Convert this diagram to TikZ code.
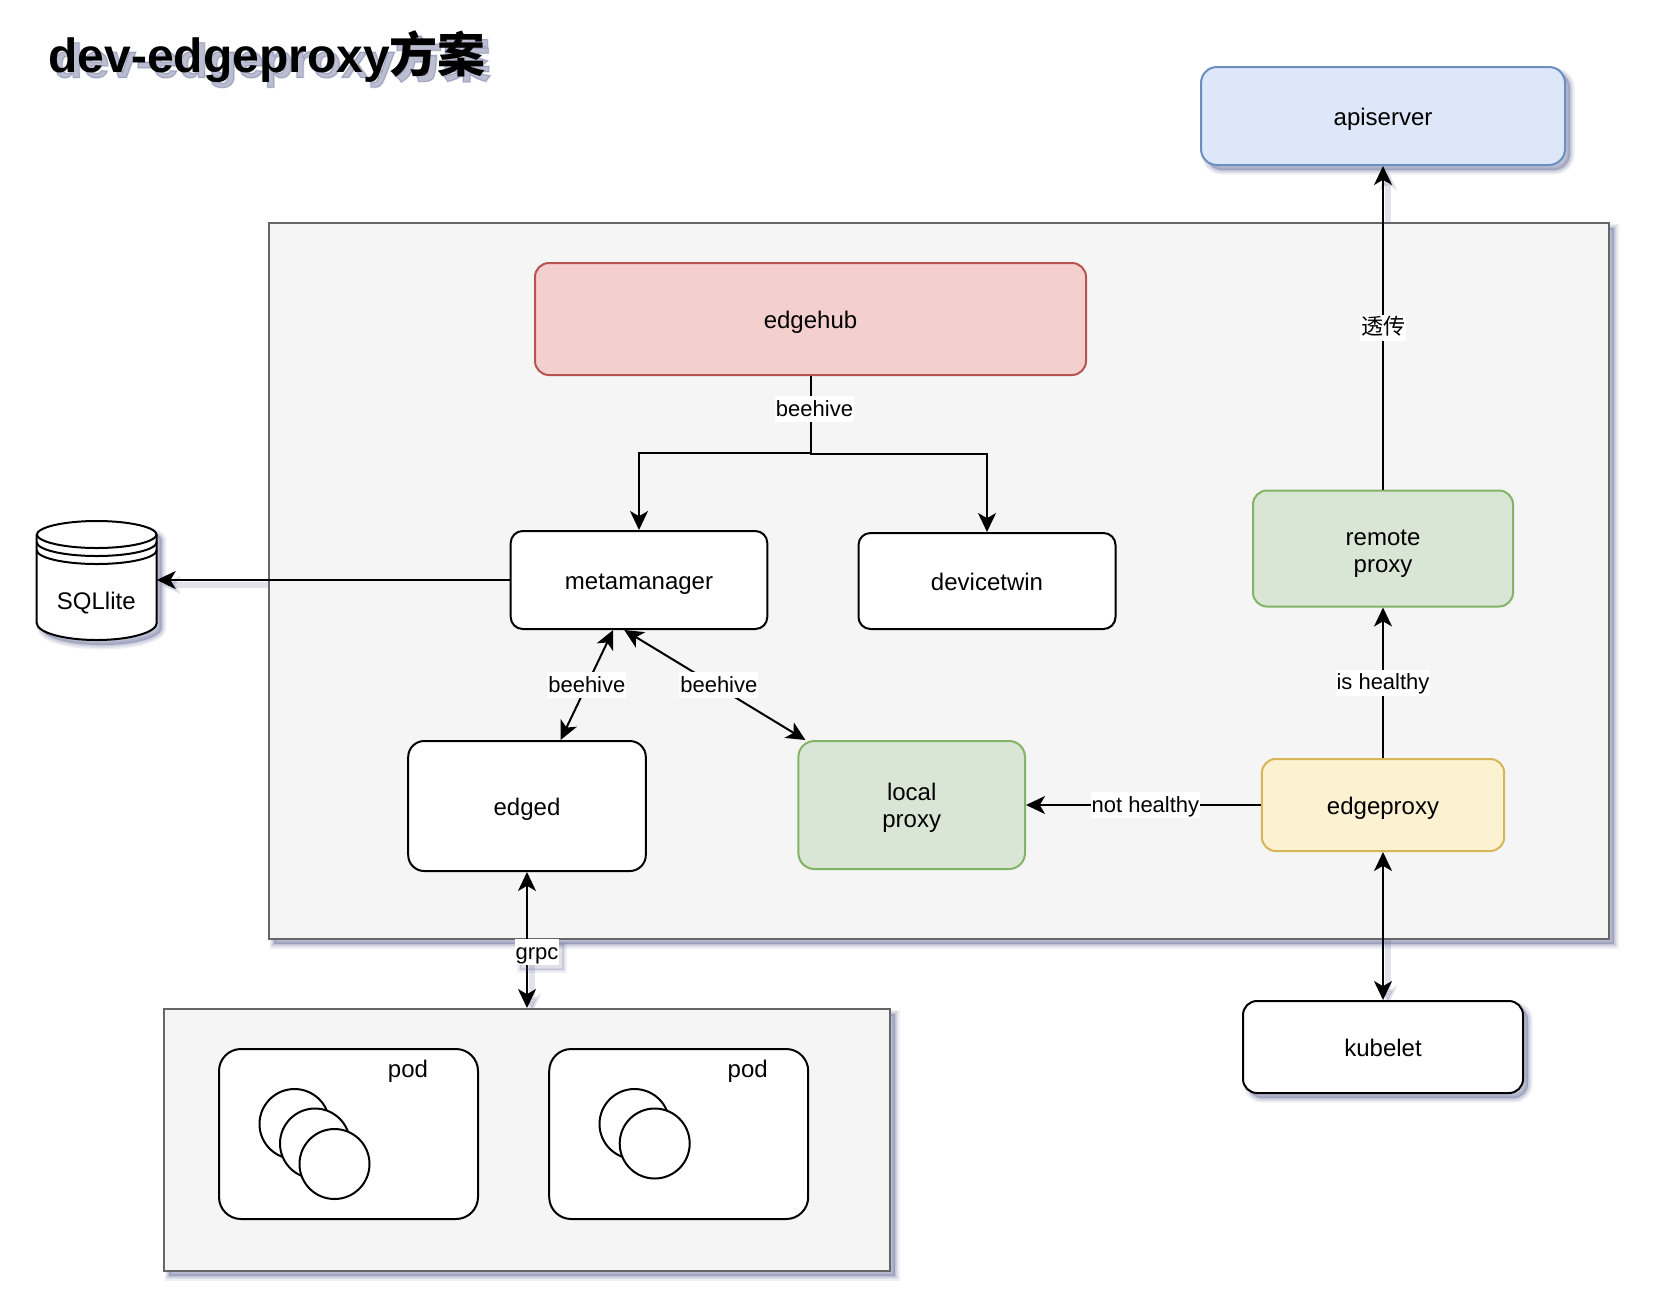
\documentclass[tikz,border=0pt]{standalone}
\usepackage{fontspec}
\setmainfont{Liberation Sans}
\newfontfamily\cjk{Noto Sans CJK SC}
\newfontfamily\glowwide[FakeBold=4]{Liberation Sans}
\newfontfamily\glowthin[FakeBold=1.5]{Liberation Sans}
\newfontfamily\cjkwide[FakeBold=4]{Noto Sans CJK SC}
\newfontfamily\cjkthin[FakeBold=1.5]{Noto Sans CJK SC}
\usepackage{tikz}
\usetikzlibrary{arrows.meta, calc}
\definecolor{cblue}{HTML}{6C8EBF}
\definecolor{cred}{HTML}{B85450}
\definecolor{cgreen}{HTML}{82B366}
\definecolor{cyellow}{HTML}{D6B656}
\definecolor{cgray}{HTML}{666666}
\definecolor{cshadow}{HTML}{565C8C}
\definecolor{lightblue}{HTML}{DDE7F9}
\definecolor{lightred}{HTML}{F3D0CE}
\definecolor{lightgreen}{HTML}{D9E6D6}
\definecolor{lightyellow}{HTML}{FCF1D0}
\definecolor{lightgray}{HTML}{F5F5F5}
\pgfdeclarelayer{edgeshadows}
\pgfsetlayers{edgeshadows,main}
\tikzset{
  softlayer/.style={preaction={draw=cshadow, fill=cshadow, opacity=0.1, line width=#1, transform canvas={shift={(2.5pt,-2.5pt)}}}},
  shadowed/.style={softlayer=4.5pt, softlayer=3pt, softlayer=1.8pt, softlayer=0.6pt},
  area/.style={draw=cgray, fill=lightgray, line width=1pt, inner sep=0pt},
  modbox/.style={draw=black, fill=white, line width=1pt, rounded corners=7pt, inner sep=0pt, font=\fontsize{12}{13.5}\selectfont, align=center},
  linebox/.style={modbox, text height=11pt, text depth=2pt},
  plaintext/.style={font=\fontsize{12}{14}\selectfont, inner sep=0pt, text height=11pt, text depth=2pt},
  edgeline/.style={line width=1pt, >={Stealth[length=9.5pt, width=9pt, inset=2.6pt]}},
  edgeglow/.style={edgeline, draw=cshadow, opacity=0.18, line width=2.6pt, transform canvas={shift={(2.5pt,-2.5pt)}}},
  edgelabel/.style={fill=white, inner sep=0.5pt, text height=9.5pt, text depth=2.5pt, font=\fontsize{11}{13}\selectfont},
  ball/.style={circle, draw=black, fill=white, line width=1pt, minimum size=35pt, inner sep=0pt},
  titletext/.style={anchor=base west, inner sep=0pt, font=\fontsize{24}{28}\selectfont\bfseries}
}
\begin{document}
\begin{tikzpicture}[x=0.5pt, y=-0.5pt]
  \useasboundingbox (0,0) rectangle (1658,1312);
  \node[titletext, text=cshadow, text opacity=0.14] (titleglowa) at (53,77.5) {\glowwide dev-edgeproxy{\cjkwide 方案}};
  \node[titletext, text=cshadow, text opacity=0.3] (titleglowb) at (53,77.5) {\glowthin dev-edgeproxy{\cjkthin 方案}};
  \node[titletext] (title) at (48,72) {dev-edgeproxy{\cjk 方案}};

  \node[area, shadowed, minimum width=670pt, minimum height=358pt] (edgenode) at (939,581) {};
  \node[area, shadowed, minimum width=363pt, minimum height=131pt] (podarea) at (527,1140) {};

  \node[linebox, shadowed, draw=cblue, fill=lightblue, rounded corners=8pt, minimum width=182pt, minimum height=49pt] (apiserver) at (1383,116) {apiserver};
  \node[linebox, draw=cred, fill=lightred, minimum width=275.5pt, minimum height=56pt] (edgehub) at (810.5,319) {edgehub};
  \node[linebox, minimum width=128.3pt, minimum height=49pt, rounded corners=6pt] (metamanager) at (639,580) {metamanager};
  \node[linebox, minimum width=128.5pt, minimum height=48pt, rounded corners=6pt] (devicetwin) at (987,581) {devicetwin};
  \node[linebox, minimum width=118.8pt, minimum height=65pt, rounded corners=8pt] (edged) at (527,806) {edged};
  \node[modbox, draw=cgreen, fill=lightgreen, minimum width=113.3pt, minimum height=64pt, rounded corners=8pt] (localproxy) at (911.7,805) {\rule{0pt}{11.3pt}local\\proxy};
  \node[modbox, draw=cgreen, fill=lightgreen, minimum width=130pt, minimum height=58pt] (remoteproxy) at (1383,548.5) {\rule{0pt}{13pt}remote\\proxy};
  \node[linebox, draw=cyellow, fill=lightyellow, minimum width=121.2pt, minimum height=46pt] (edgeproxy) at (1383,805) {edgeproxy};
  \node[linebox, shadowed, minimum width=140pt, minimum height=46pt] (kubelet) at (1383,1047) {kubelet};

  \node[minimum width=60pt, minimum height=60pt, inner sep=0pt, outer sep=0pt] (sqllite) at (96.7,580) {};
  \draw[shadowed, fill=white, line width=1pt] (sqllite.west |- 0,535) -- (sqllite.west |- 0,623) arc[start angle=180, end angle=360, x radius=30pt, y radius=8.5pt] -- (sqllite.east |- 0,535) arc[start angle=0, end angle=180, x radius=30pt, y radius=7pt] -- cycle;
  \draw[line width=1pt] (sqllite.west |- 0,534) arc[start angle=180, end angle=360, x radius=30pt, y radius=7pt];
  \draw[line width=1pt] (sqllite.west |- 0,542) arc[start angle=180, end angle=360, x radius=30pt, y radius=7pt];
  \draw[line width=1pt] (sqllite.west |- 0,550) arc[start angle=180, end angle=360, x radius=30pt, y radius=7pt];
  \node[plaintext] (sqllitetext) at (96.3,600.3) {SQLlite};

  \node[modbox, rounded corners=11pt, minimum width=129.5pt, minimum height=85pt] (podone) at (348.5,1134) {};
  \node[modbox, rounded corners=11pt, minimum width=129.5pt, minimum height=85pt] (podtwo) at (678.7,1134) {};
  \node[plaintext] (podonetext) at (408,1068.5) {pod};
  \node[plaintext] (podtwotext) at (747.7,1068.5) {pod};
  \foreach \n/\x/\y in {a/294.5/1124, b/315/1143.5, c/334.5/1164, d/634.5/1124, e/654.7/1143.5}{
    \node[ball] (ball\n) at (\x,\y) {};
  }

  \begin{pgfonlayer}{edgeshadows}
    \draw[edgeglow, ->] (remoteproxy.north) -- (apiserver.south);
    \draw[edgeglow, ->] (metamanager.west) -- (sqllite.east);
    \draw[edgeglow, ->] (edged.south) -- (podarea.north);
    \draw[edgeglow, ->] (edgeproxy.south) -- (kubelet.north);
  \end{pgfonlayer}

  \draw[edgeline, ->] (edgehub.south) -- ++(0,78) -| (devicetwin.north);
  \draw[edgeline, ->] (edgehub.south) -- ++(0,77) node[edgelabel, pos=0.43, xshift=2pt] (labelhub) {beehive} -| (metamanager.north);
  \draw[edgeline, ->] (metamanager.west) -- (sqllite.east);
  \draw[edgeline, <->] ($(metamanager.south west)!0.4!(metamanager.south east)$) -- node[edgelabel] (labeledged) {beehive} ($(edged.north west)!0.64!(edged.north east)$);
  \draw[edgeline, <->] ($(metamanager.south west)!0.443!(metamanager.south east)$) -- node[edgelabel, xshift=2pt] (labellocal) {beehive} ($(localproxy.north west)!0.035!(localproxy.north east)$);
  \draw[edgeline, <->] (edged.south) -- node[edgelabel, pos=0.59, xshift=5pt, softlayer=2.5pt, softlayer=1pt] (labelgrpc) {grpc} (podarea.north);
  \draw[edgeline, ->] (edgeproxy.west) -- node[edgelabel, xshift=1pt] (labelnot) {not healthy} (localproxy.east);
  \draw[edgeline, ->] (edgeproxy.north) -- node[edgelabel] (labelis) {is healthy} (remoteproxy.south);
  \draw[edgeline, ->] (remoteproxy.north) -- node[edgelabel] (labelpass) {\cjk 透传} (apiserver.south);
  \draw[edgeline, <->] (edgeproxy.south) -- (kubelet.north);
\end{tikzpicture}
\end{document}
